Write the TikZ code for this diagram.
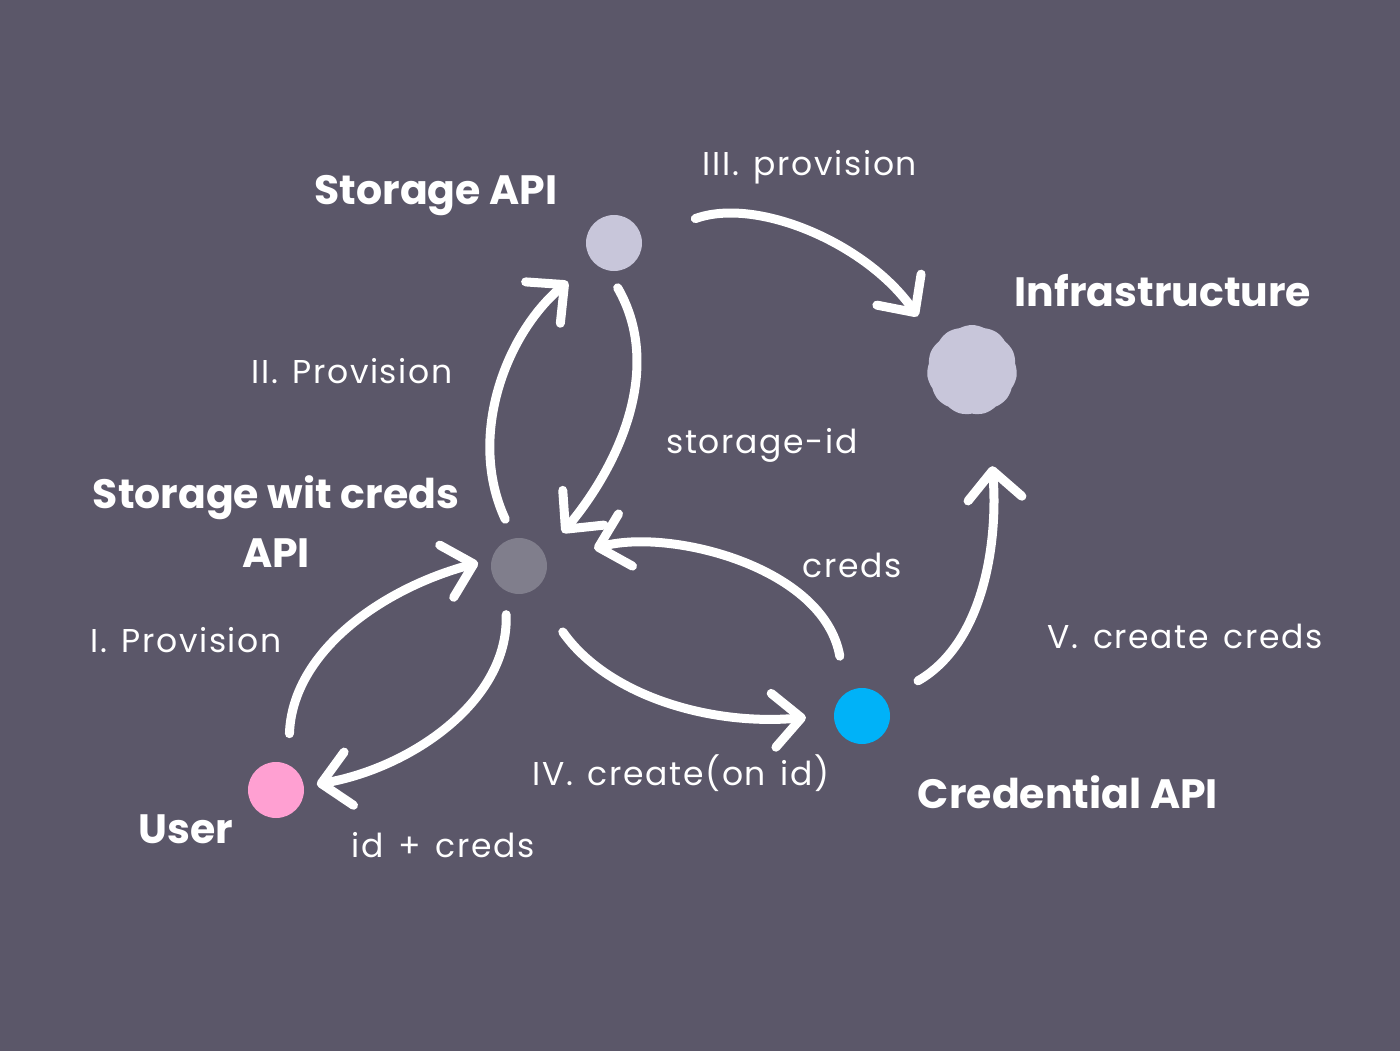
\documentclass[tikz,border=0pt]{standalone}
\usepackage{fontspec}
\setmainfont{Poppins}
\newfontfamily\handfont{Poppins}[LetterSpace=5,WordSpace=1.4]
\usepackage{tikz}
\usetikzlibrary{arrows.meta,shapes.symbols}
\definecolor{bg}{RGB}{91,87,105}
\definecolor{pale}{RGB}{200,198,218}
\definecolor{mid}{RGB}{128,126,140}
\definecolor{pink}{RGB}{255,160,210}
\definecolor{sky}{RGB}{0,178,248}
\tikzset{
  dot/.style={circle,minimum size=56pt,inner sep=0pt},
  flow/.style={white,line width=9pt,line cap=round,-{Straight Barb[length=28pt,width=54pt,round]}},
  title/.style={white,anchor=base,font=\fontsize{41}{46}\selectfont\bfseries},
  note/.style={white,anchor=base,font=\fontsize{33}{38}\handfont},
}

\begin{document}
\begin{tikzpicture}[x=1pt,y=1pt]
\fill[bg] (0,0) rectangle (1400,-1051);
% the services
\node[dot,fill=pale] (sa) at (614,-243) {};
\node[cloud,cloud puffs=11,cloud puff arc=58,aspect=1,minimum size=90pt,inner sep=0pt,fill=pale] (inf) at (972,-370) {};
\node[dot,fill=mid] (sw) at (519,-566) {};
\node[dot,fill=pink] (usr) at (276,-790) {};
\node[dot,fill=sky] (cr) at (862,-716) {};
% names
\node[title] (saname) at (436,-205) {Storage API};
\node[title] (infname) at (1163,-306) {Infrastructure};
\node[title] (swname) at (276,-508) {Storage wit creds};
\node[title] (swname2) at (276,-567) {API};
\node[title] (usrname) at (186,-843) {User};
\node[title] (crname) at (1068,-808) {Credential API};
% calls
\draw[flow,shorten <=57pt,shorten >=33pt] (sa.10) to[out=20,in=125] (inf.143);
\draw[flow,shorten <=21pt,shorten >=32pt] (sw.100) to[out=115,in=220] (sa.220);
\draw[flow,shorten <=20pt,shorten >=28pt] (sa.257) to[out=-60,in=50] (sw.25);
\draw[flow,shorten <=31pt,shorten >=14pt] (usr.64) to[out=88,in=195] (sw.166);
\draw[flow,shorten <=24pt,shorten >=13pt] (sw.241) to[out=-88,in=10] (usr.7);
\draw[flow,shorten <=51pt,shorten >=28pt] (sw.-59) to[out=-55,in=185] (cr.178);
\draw[flow,shorten <=37pt,shorten >=49pt] (cr.124) to[out=100,in=15] (sw.10);
\draw[flow,shorten <=38pt,shorten >=54pt] (cr.35) to[out=30,in=-85] (inf.-70);
\node[note] (l3) at (810,-176) {III. provision};
\node[note] (l2) at (352,-383) {II. Provision};
\node[note] (lid) at (762,-453) {storage-id};
\node[note] (lcr) at (852,-577) {creds};
\node[note] (l1) at (186,-652) {I. Provision};
\node[note] (l5) at (1185,-648) {V. create creds};
\node[note] (l4) at (681,-785) {IV. create(on id)};
\node[note] (lback) at (443,-857) {id + creds};
\end{tikzpicture}
\end{document}
